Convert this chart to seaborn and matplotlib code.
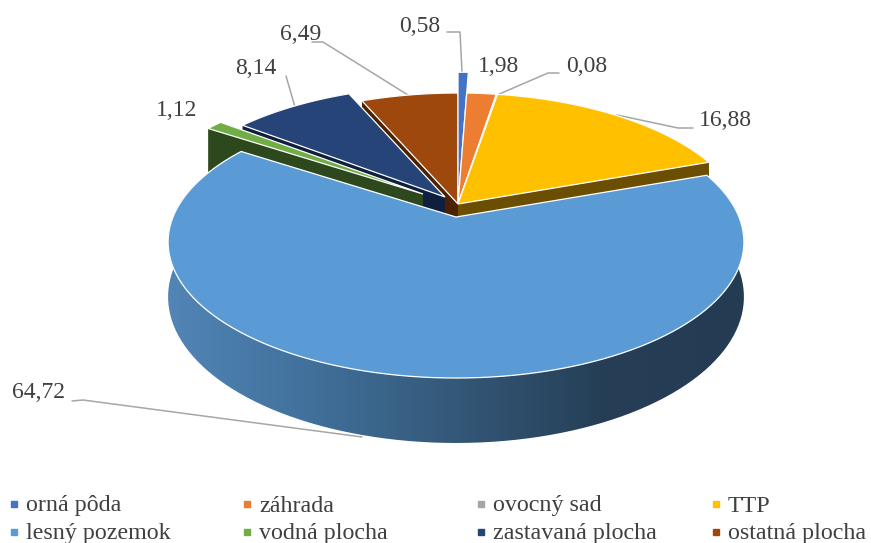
import numpy as np
import matplotlib
matplotlib.use('Agg')
import matplotlib.pyplot as plt
from matplotlib.colors import LinearSegmentedColormap
from matplotlib.patches import Polygon
import seaborn as sns

# land use shares, clockwise from the top
categories = ['orná pôda', 'záhrada', 'ovocný sad', 'TTP', 'lesný pozemok',
              'vodná plocha', 'zastavaná plocha', 'ostatná plocha']
shares = [0.58, 1.98, 0.08, 16.88, 64.72, 1.12, 8.14, 6.49]
share_labels = ['0,58', '1,98', '0,08', '16,88', '64,72', '1,12', '8,14', '6,49']

colors = sns.color_palette(['#4472c4', '#ed7d31', '#a5a5a5', '#ffc000',
                            '#5b9bd5', '#70ad47', '#264478', '#9e480e'])
wall_colors = ['#1c3060', '#6a3510', '#555555', '#6b4e00',
               '#2a4a68', '#2d481c', '#0f1f3d', '#4a2200']

# picture layout in pixels
cx, cy = 458, 204
rx, ry = 283, 131.4
k = 0.184
depth = 53
offsets = [(0, 0), (0, 0), (0, 0), (0, 0), (-2, 13), (-35, -10), (-13, -7), (0, 0)]
radii = [1.23, 1, 1, 1, 1, 1, 1, 1]
has_wall = [False, True, False, True, False, True, True, True]
draw_order = [7, 0, 1, 2, 3, 6, 5, 4]

label_pos = [(420, 27), (499, 66), (587, 66), (725, 120), (38, 392), (177, 111), (256, 69), (301, 35)]
leaders = [[(447, 32), (460, 32), (462, 72)],
           [(559, 73), (548, 73), (497, 95)],
           [(693, 128), (678, 128), (617, 115)],
           [(72, 401), (83, 400), (362, 437)],
           [(286, 76), (295, 107)],
           [(312, 42), (323, 42), (408, 95)]]
legend_x = [14, 247, 481, 716]
legend_y = [504, 532]

sns.set_theme(style='white')
plt.rcParams['font.family'] = ['Liberation Serif', 'DejaVu Serif']


def project(theta, r, dx, dy, drop=0.0):
    a = np.radians(theta)
    x, y = r * np.sin(a), r * np.cos(a)
    w = 1 + k * y
    return np.c_[cx + rx * x / w + dx, cy - ry * y / w + dy + drop / w]


fig = plt.figure(figsize=(8.71, 5.43), dpi=100)
ax = fig.add_axes([0, 0, 1, 1])

ends = np.cumsum(shares) / np.sum(shares) * 360
starts = np.r_[0, ends[:-1]]

for i in draw_order:
    dx, dy = offsets[i]
    th = np.linspace(starts[i], ends[i], 120)
    arc = project(th, radii[i], dx, dy)
    apex = project(0, 0, dx, dy)
    if has_wall[i]:
        low_arc = project(th, radii[i], dx, dy, depth)
        low_apex = project(0, 0, dx, dy, depth)
        wall = np.vstack([apex, arc, low_arc[::-1], low_apex])
        ax.add_patch(Polygon(wall, fc=wall_colors[i], ec='none', zorder=2))
        # the radial faces
        for edge in (arc[0], arc[-1]):
            face = np.vstack([apex, edge, edge + low_arc[0] - arc[0], low_apex])
            ax.add_patch(Polygon(face, fc=wall_colors[i], ec='none', zorder=2))
    if categories[i] == 'lesný pozemok':
        # shaded rim of the big slice, only the part in front
        front = th[(th > 70) & (th < 300)]
        rim = np.vstack([project(front, 1, dx, dy), project(front, 1, dx, dy, depth)[::-1]])
        clip = Polygon(rim, fc='none', ec='none')
        ax.add_patch(clip)
        shade = LinearSegmentedColormap.from_list(
            'rim', ['#5286b6', '#41709b', '#345878', '#263f57', '#233c52'])
        im = ax.imshow(np.linspace(0, 1, 256)[None, :], cmap=shade, aspect='auto',
                       extent=(165, 745, 450, 150), zorder=2)
        im.set_clip_path(clip)
    top = np.vstack([apex, arc])
    ax.add_patch(Polygon(top, fc=colors[i], ec='white', lw=0.9, joinstyle='miter', zorder=2))

for pts in leaders:
    xs, ys = zip(*pts)
    ax.plot(xs, ys, color='#a6a6a6', lw=1.1, zorder=1)

for txt, (x, y) in zip(share_labels, label_pos):
    ax.text(x, y, txt, ha='center', va='center', fontsize=17, color='#404040', zorder=4)

# legend is filled row by row, four to a row
for i, name in enumerate(categories):
    x = legend_x[i % 4]
    y = legend_y[i // 4]
    ax.plot([x], [y], marker='s', ms=4.2, color=colors[i], ls='none')
    ax.text(x + 12, y + 2, name, ha='left', va='center', fontsize=17.3, color='#404040')

ax.set_xlim(0, 871)
ax.set_ylim(543, 0)
ax.axis('off')
fig.savefig('out.png', dpi=100, facecolor='white')
